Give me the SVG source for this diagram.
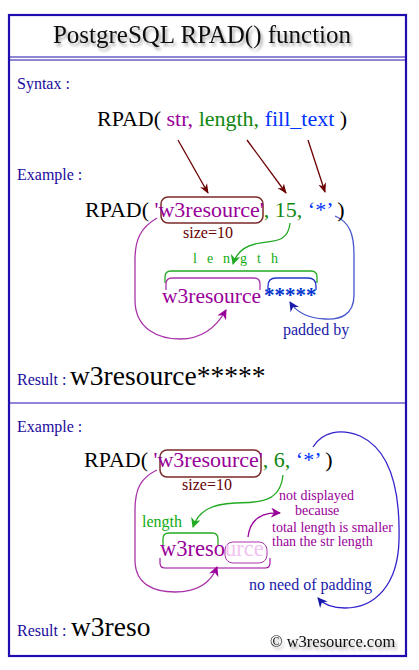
<svg xmlns="http://www.w3.org/2000/svg" width="419" height="670" viewBox="0 0 419 670">
<style>
text{font-family:"Liberation Serif","Times New Roman",serif}
.lbl{font-size:16px;fill:#1a0a9c}
.code{font-size:22px}
.pur{fill:#990099}
.grn{fill:#118811}
.blu{fill:#0033ff}
.dkred{fill:#660000}
.c{fill:none;stroke-width:1.3}
</style>
<defs>
<filter id="sh" x="-5%" y="-20%" width="110%" height="150%">
<feGaussianBlur in="SourceAlpha" stdDeviation="1.5"/>
<feOffset dx="2" dy="3" result="b"/>
<feComponentTransfer><feFuncA type="linear" slope="0.35"/></feComponentTransfer>
<feMerge><feMergeNode/><feMergeNode in="SourceGraphic"/></feMerge>
</filter>
<marker id="aR" viewBox="0 0 10 10" refX="9" refY="5" markerWidth="10" markerHeight="10" orient="auto" markerUnits="userSpaceOnUse"><path d="M0,1 L10,5 L0,9 L3,5z" fill="#6b0000"/></marker>
<marker id="aG" viewBox="0 0 10 10" refX="9" refY="5" markerWidth="10" markerHeight="10" orient="auto" markerUnits="userSpaceOnUse"><path d="M0,0 L10,5 L0,10 L3,5z" fill="#22aa22"/></marker>
<marker id="aP" viewBox="0 0 10 10" refX="9" refY="5" markerWidth="10" markerHeight="10" orient="auto" markerUnits="userSpaceOnUse"><path d="M0,0 L10,5 L0,10 L3,5z" fill="#990099"/></marker>
<marker id="aB" viewBox="0 0 10 10" refX="9" refY="5" markerWidth="10" markerHeight="10" orient="auto" markerUnits="userSpaceOnUse"><path d="M0,0 L10,5 L0,10 L3,5z" fill="#1a1aaa"/></marker>
</defs>
<rect width="419" height="670" fill="#ffffff"/>
<g id="frame" fill="none" stroke="#1f0db0">
<rect x="9" y="15" width="397" height="641" stroke-width="2.2"/>
<line x1="9" y1="57" x2="406" y2="57" stroke-width="1"/>
<line x1="9" y1="60" x2="406" y2="60" stroke-width="1"/>
<line x1="9" y1="403" x2="406" y2="403" stroke-width="1.2"/>
</g>
<g id="title"><text x="202" y="43" text-anchor="middle" font-size="25" fill="#111" filter="url(#sh)">PostgreSQL RPAD() function</text></g>
<g id="syntax">
<text class="lbl" x="17" y="89">Syntax :</text>
<text class="code" x="97" y="126" fill="#000" font-size="22.3">RPAD( <tspan class="pur">str,</tspan> <tspan class="grn">length,</tspan> <tspan class="blu">fill_text</tspan> )</text>
</g>
<g id="connectors">
<path class="c" stroke="#6b0000" d="M178,140 L208,193" marker-end="url(#aR)"/>
<path class="c" stroke="#6b0000" d="M247,140 L286,193" marker-end="url(#aR)"/>
<path class="c" stroke="#6b0000" d="M308,140 L325,192" marker-end="url(#aR)"/>
<path class="c" stroke="#22aa22" d="M290,223 C288,245 270,240 255,244 C242,247 236,254 233,264" marker-end="url(#aG)"/>
<path class="c" stroke="#aa33aa" d="M157,218 C140,228 135,240 135,260 L135,300 C135,330 160,339 180,339 C200,339 215,330 226,310" marker-end="url(#aP)"/>
<path class="c" stroke="#4455cc" d="M335,216 C350,222 354,235 354,255 L354,295 C354,315 340,320 325,319 C305,318 295,310 290,302" marker-end="url(#aB)"/>
<path class="c" stroke="#22aa22" d="M283,475 C280,505 255,502 235,503 C210,504 198,512 193,527" marker-end="url(#aG)"/>
<path class="c" stroke="#aa33aa" d="M157,470 C140,478 135,490 135,510 L135,560 C135,585 155,592 175,592 C195,592 210,585 217,567" marker-end="url(#aP)"/>
<path class="c" stroke="#990099" d="M248,537 C250,520 260,512 280,513" marker-end="url(#aP)"/>
<path class="c" stroke="#3322cc" d="M313,447 C322,432 340,428 360,436 C395,452 400,500 399,540 C398,585 375,608 345,608 C333,608 324,605 318,598" marker-end="url(#aB)"/>
</g>
<g id="example1">
<text class="lbl" x="17" y="180">Example :</text>
<rect x="161" y="197" width="102" height="26" rx="7" fill="none" stroke="#7a2a2a" stroke-width="1.5"/>
<text class="code" x="85" y="217" fill="#000">RPAD( <tspan class="pur">'w3resource'</tspan><tspan class="grn">, 15,</tspan> <tspan class="blu">‘*’</tspan> )</text>
<text x="183" y="238" font-size="16" class="dkred">size=10</text>
<text x="193" y="263" font-size="14" fill="#11aa11" letter-spacing="10">length</text>
<path d="M165,283 L165,277 Q165,271 171,271 L311,271 Q317,271 317,277 L317,283" fill="none" stroke="#22aa22" stroke-width="1.3"/>
<path d="M166,290 L166,284 Q166,278 172,278 L254,278 Q260,278 260,284 L260,290" fill="none" stroke="#aa33aa" stroke-width="1.3"/>
<path d="M268,290 L268,286 Q268,278 276,278 L308,278 Q316,278 316,286 L316,290" fill="none" stroke="#2233cc" stroke-width="1.3"/>
<text class="pur" x="162" y="303" font-size="21.5">w3resource</text>
<text x="264" y="302" font-size="21" font-weight="bold" fill="#0033cc">*****</text>
<text x="283" y="335" font-size="16" fill="#1a1aaa">padded by</text>
<text class="lbl" x="17" y="385">Result :</text>
<text x="70" y="385" font-size="27.5" fill="#000">w3resource*****</text>
</g>
<g id="example2">
<text class="lbl" x="17" y="432">Example :</text>
<rect x="160" y="450" width="101" height="27" rx="7" fill="none" stroke="#7a2a2a" stroke-width="1.5"/>
<text class="code" x="84" y="467" fill="#000">RPAD( <tspan class="pur">'w3resource'</tspan><tspan class="grn">, 6,</tspan> <tspan class="blu">‘*’</tspan> )</text>
<text x="182" y="490" font-size="16" class="dkred">size=10</text>
<text x="142" y="527" font-size="16" fill="#11aa11">length</text>
<path d="M163,545 L163,539 Q163,533 169,533 L212,533 Q218,533 218,539 L218,545" fill="none" stroke="#22aa22" stroke-width="1.3"/>
<rect x="225" y="542" width="42" height="21" rx="8" fill="none" stroke="#aa33aa" stroke-width="1"/>
<text class="pur" x="160" y="556" font-size="22.5">w3reso<tspan fill="#f2c2f2">urce</tspan></text>
<path d="M160,558 L160,563 Q160,568 165,568 L265,568 Q270,568 270,563 L270,558" fill="none" stroke="#990099" stroke-width="1.1"/>
<g font-size="14" class="pur">
<text x="279" y="500">not displayed</text>
<text x="295" y="515">because</text>
<text x="272" y="532">total length is smaller</text>
<text x="272" y="546">than the str length</text>
</g>
<text x="249" y="590" font-size="16" fill="#1a1aaa">no need of padding</text>
<text class="lbl" x="17" y="636">Result :</text>
<text x="71" y="636" font-size="27.5" fill="#000">w3reso</text>
<text x="270" y="647" font-size="16.5" fill="#111" filter="url(#sh)">© w3resource.com</text>
</g>
</svg>
